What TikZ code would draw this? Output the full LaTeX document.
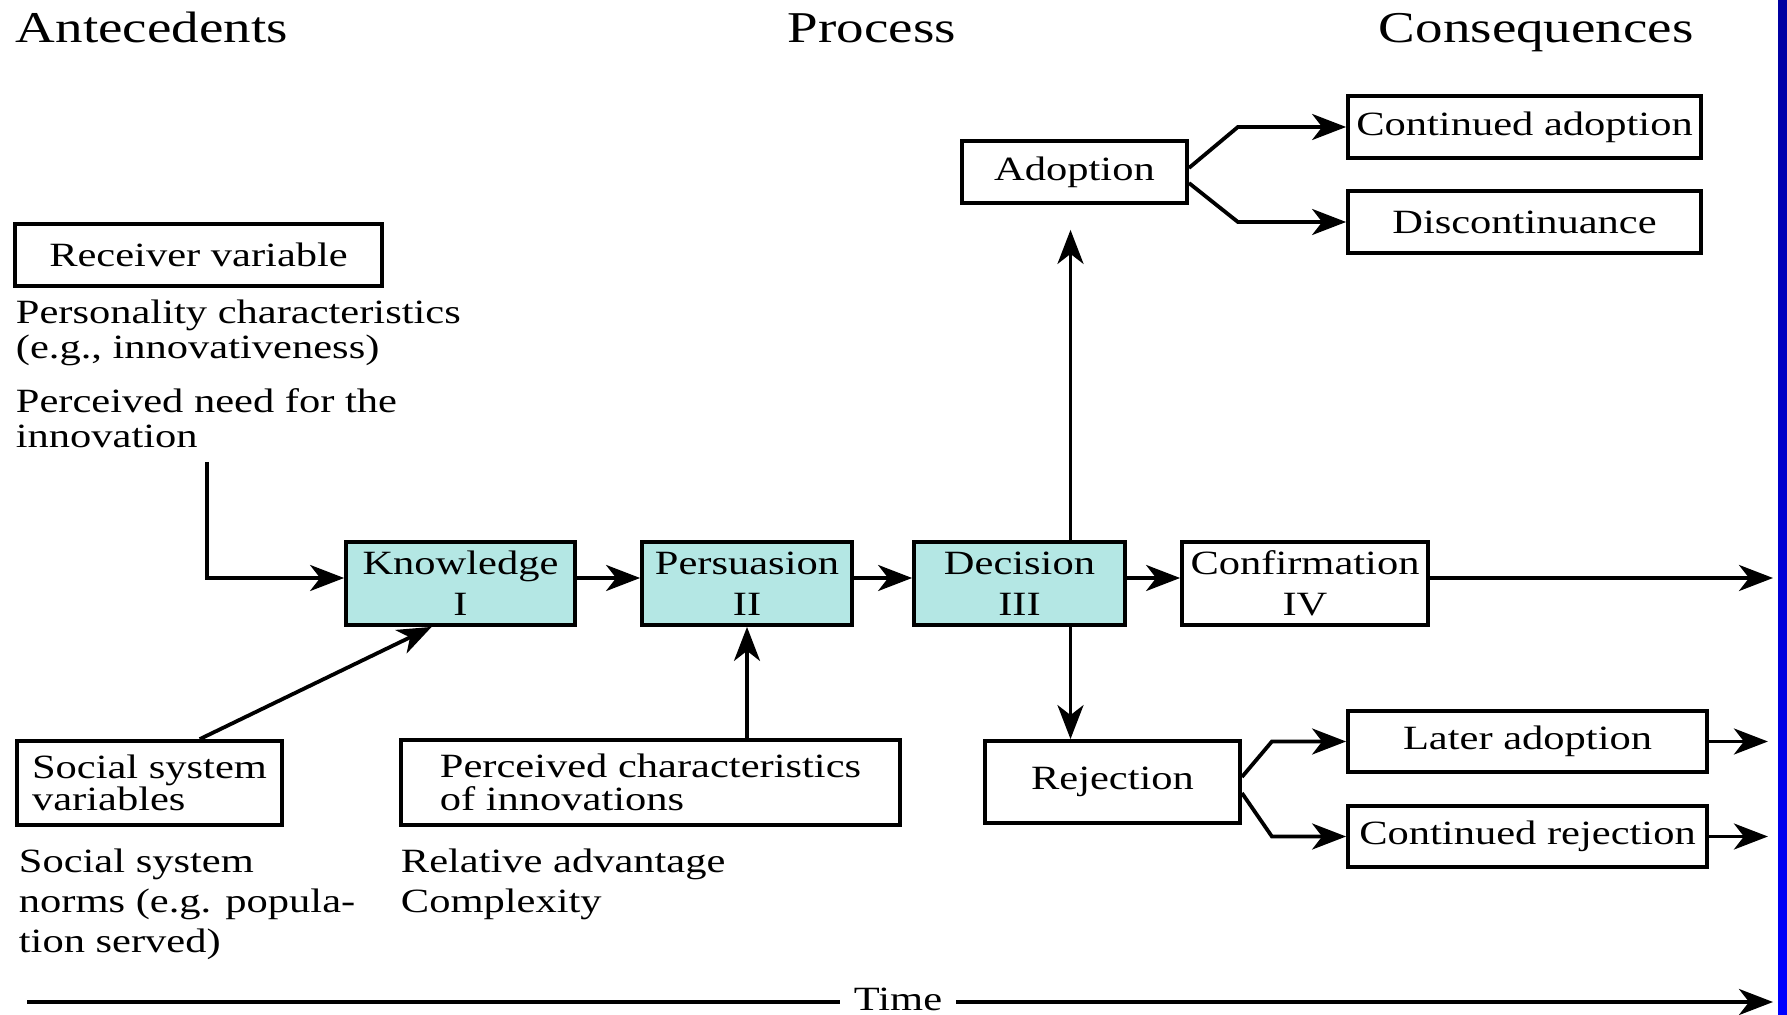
\documentclass[tikz,border=0pt]{standalone}
\usepackage{fontspec}
\setmainfont{Liberation Serif}[FakeStretch=1.25]
\usetikzlibrary{arrows.meta,calc}
\definecolor{boxcyan}{RGB}{180,231,228}
\definecolor{bluetop}{RGB}{0,0,160}
\definecolor{bluebot}{RGB}{0,0,255}
\newcommand\txtfont{\fontsize{17}{17.5}\selectfont}
\newcommand\boxfont{\fontsize{17}{20.5}\selectfont}
\newcommand\tightfont{\fontsize{17}{16.2}\selectfont}
\newcommand\widefont{\fontsize{17}{20}\selectfont}
\newcommand\hdfont{\fontsize{22}{26}\selectfont}
\begin{document}
\begin{tikzpicture}[x=0.5pt,y=-0.5pt,
  line width=1.9pt,
  arr/.style={-{Stealth[length=17pt,width=13pt,inset=5pt]}},
  bx/.style={draw, inner sep=1pt, align=center, font=\boxfont},
  sz/.style 2 args={minimum width=#1*0.5pt, minimum height=#2*0.5pt},
  cy/.style={fill=boxcyan},
  txt/.style={anchor=base west, inner sep=0pt, font=\txtfont},
  head/.style={anchor=base west, inner sep=0pt, font=\hdfont}]
\fill[white] (0,0) rectangle (1787,1015);
\useasboundingbox (0,0) rectangle (1787,1015);
\shade[top color=bluetop, bottom color=bluebot] (1778,0) rectangle (1787,1015);

% headings
\node[head] (hA) at (14,43) {Antecedents};
\node[head] (hP) at (786,43) {Process};
\node[head] (hC) at (1377,43) {Consequences};

% antecedents
\node[bx, sz={367}{62}] (recv) at (198.5,255) {Receiver variable};
\node[txt] (perst) at (14,324) {\begin{tabular}[t]{@{}l@{}}Personality characteristics\\(e.g., innovativeness)\end{tabular}};
\node[txt] (need) at (14,413) {\begin{tabular}[t]{@{}l@{}}Perceived need for the\\innovation\end{tabular}};
\node[bx, sz={265}{84}, align=left, font=\tightfont] (soc) at (149.5,783) {Social system\\variables};
\node[bx, sz={499}{85}, align=left, font=\tightfont] (pci) at (650.5,782.5) {Perceived characteristics\\of innovations};
\node[txt, font=\widefont] (soct) at (17,872) {\begin{tabular}[t]{@{}l@{}}Social system\\norms (e.g. popula-\\tion served)\end{tabular}};
\node[txt, font=\widefont] (relt) at (399,872) {\begin{tabular}[t]{@{}l@{}}Relative advantage\\Complexity\end{tabular}};

% process
\node[bx, cy, sz={229}{83}] (know) at (460.5,583.5) {Knowledge\\I};
\node[bx, cy, sz={210}{83}] (pers) at (747,583.5) {Persuasion\\II};
\node[bx, cy, sz={211}{83}] (deci) at (1019.5,583.5) {Decision\\III};
\node[bx, sz={246}{83}] (conf) at (1305,583.5) {Confirmation\\IV};
\node[bx, sz={225}{62}] (adop) at (1074.5,172) {Adoption};
\node[bx, sz={255}{82}] (rej) at (1112.5,782) {Rejection};

% consequences
\node[bx, sz={353}{62}] (cadop) at (1524.5,127) {Continued adoption};
\node[bx, sz={353}{62}] (disc) at (1524.5,222) {Discontinuance};
\node[bx, sz={359}{61}] (later) at (1527.5,741.5) {Later adoption};
\node[bx, sz={359}{61}] (crej) at (1527.5,836.5) {Continued rejection};

% connectors
\coordinate (ax) at (0,578);
\coordinate (needend) at (207,462);
\coordinate (confend) at (1773,578);
\draw[arr] (needend) |- (know.west |- ax);
\draw[arr] ($(soc.north west)!0.687!(soc.north east)$) -- ($(know.south west)!0.376!(know.south east)$);
\draw[arr] (know.east |- ax) -- (pers.west |- ax);
\draw[arr] (pers.east |- ax) -- (deci.west |- ax);
\draw[arr] (deci.east |- ax) -- (conf.west |- ax);
\draw[arr] (conf.east |- ax) -- (confend);
\draw[arr] (pers.south |- pci.north) -- (pers.south);
\draw[arr, shorten >=12.5pt] ([xshift=-2pt]adop.south |- deci.north) -- ([xshift=-2pt]adop.south);
\draw[arr] ([xshift=-2pt]adop.south |- deci.south) -- ([xshift=-2pt]adop.south |- rej.north);
\draw[arr] ($(adop.east)+(0,-4)$) -- ++(49,-41) -- (cadop.west);
\draw[arr] ($(adop.east)+(0,11)$) -- ++(49,39) -- (disc.west);
\draw[arr] ($(rej.east)+(0,-5)$) -- ++(30,-35.5) -- (later.west);
\draw[arr] ($(rej.east)+(0,11)$) -- ++(30,43.5) -- (crej.west);
\draw[arr] (later.east) -- ++(59,0);
\draw[arr] (crej.east) -- ++(59,0);

% time line
\node[font=\txtfont, inner xsep=6pt, inner ysep=0pt, anchor=base] (time) at (898,1010) {Time};
\coordinate (tl0) at (27,1002);
\coordinate (tl1) at (1773,1002);
\draw (tl0) -- (tl0 -| time.west);
\draw[arr] (tl0 -| time.east) -- (tl1);
\end{tikzpicture}
\end{document}
